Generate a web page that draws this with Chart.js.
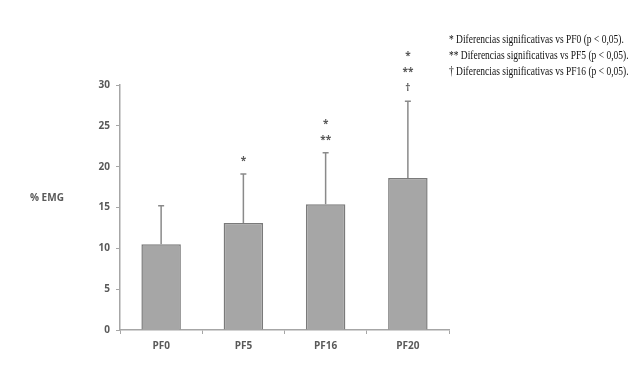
<!DOCTYPE html>
<html>
<head>
<meta charset="utf-8">
<script src="https://cdn.jsdelivr.net/npm/chart.js@4"></script>
<style>
  html, body { margin: 0; padding: 0; background: #fff; }
  #wrap { position: relative; width: 643px; height: 370px; }
  #notes {
    position: absolute; left: 449px; top: 31px;
    font-family: "Liberation Serif", "DejaVu Serif", serif;
    font-size: 13px; line-height: 16px; color: #111;
    transform: scaleX(0.73); transform-origin: 0 0; white-space: nowrap;
  }
</style>
</head>
<body>
<div id="wrap">
  <canvas id="chart" width="643" height="370"></canvas>
  <div id="notes">
    <div>* Diferencias significativas vs PF0 (p &lt; 0,05).</div>
    <div>** Diferencias significativas vs PF5 (p &lt; 0,05).</div>
    <div>† Diferencias significativas vs PF16 (p &lt; 0,05).</div>
  </div>
</div>
<script>
// data
const categories = ['PF0', 'PF5', 'PF16', 'PF20'];
const meanEMG = [10.5, 13.1, 15.4, 18.6];
const sdUpper = [15.2, 19.1, 21.7, 28.0];
// significance marks per bar, top to bottom
const marks = [[], ['*'], ['*', '**'], ['*', '**', '†']];
const yTicks = [0, 5, 10, 15, 20, 25, 30];

const axisGray = '#a6a6a6';
const labelGray = '#595959';

// draws the upper error bars, significance marks and y title
const extras = {
    id: 'extras',
    afterDatasetsDraw(chart) {
        const ctx = chart.ctx;
        const x = chart.scales.x, y = chart.scales.y;
        ctx.save();
        ctx.strokeStyle = '#8a8a8a';
        ctx.lineWidth = 1.5;
        categories.forEach((c, i) => {
            const cx = x.getPixelForValue(i);
            const top = y.getPixelForValue(sdUpper[i]);
            const base = y.getPixelForValue(meanEMG[i]);
            ctx.beginPath();
            ctx.moveTo(cx, base);
            ctx.lineTo(cx, top);
            ctx.moveTo(cx - 3, top);
            ctx.lineTo(cx + 3, top);
            ctx.stroke();

            // marks stacked upward from the error bar
            ctx.fillStyle = labelGray;
            ctx.font = 'bold 10px "Open Sans", sans-serif';
            ctx.textAlign = 'center';
            ctx.textBaseline = 'middle';
            const m = marks[i];
            for (let k = m.length - 1, row = 0; k >= 0; k--, row++) {
                ctx.fillText(m[k], cx, top - 13 - row * 16);
            }
        });
        ctx.fillStyle = labelGray;
        ctx.font = 'bold 10px "Open Sans", sans-serif';
        ctx.textAlign = 'left';
        ctx.textBaseline = 'middle';
        ctx.fillText('% EMG', 30, 198);
        ctx.restore();
    }
};

new Chart(document.getElementById('chart'), {
    type: 'bar',
    data: {
        labels: categories,
        datasets: [{
            data: meanEMG,
            backgroundColor: '#a6a6a6',
            borderColor: '#7a7a7a',
            borderWidth: 1.5,
            barPercentage: 0.48,
            categoryPercentage: 1
        }]
    },
    options: {
        responsive: false,
        animation: false,
        layout: { padding: { left: 0, right: 194, top: 85, bottom: 0 } },
        plugins: { legend: { display: false }, tooltip: { enabled: false } },
        scales: {
            x: {
                afterFit: s => { s.height = 40; },
                grid: { offset: true, drawOnChartArea: false, tickLength: 4, color: axisGray },
                border: { color: axisGray, width: 1.5 },
                ticks: { color: labelGray, padding: 6, font: { family: 'Open Sans', size: 10, weight: 'bold' } }
            },
            y: {
                min: 0,
                max: 30,
                afterFit: s => { s.width = 120; },
                afterBuildTicks: s => { s.ticks = yTicks.map(v => ({ value: v })); },
                grid: { drawOnChartArea: false, tickLength: 4, color: axisGray },
                border: { color: axisGray, width: 1.5 },
                ticks: { color: labelGray, padding: 6, font: { family: 'Open Sans', size: 10, weight: 'bold' } }
            }
        }
    },
    plugins: [extras]
});
</script>
</body>
</html>
